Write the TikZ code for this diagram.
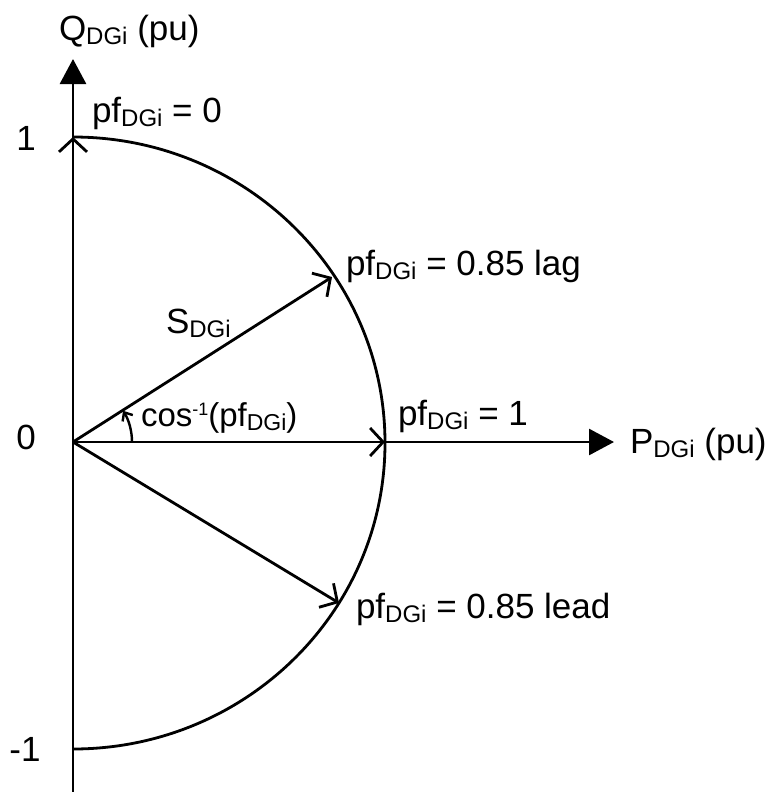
\documentclass[tikz,border=0pt]{standalone}
\usepackage{fontspec}
\setmainfont{Liberation Sans}
\usetikzlibrary{arrows.meta}
\newcommand\subx[1]{\raisebox{-4pt}{\fontsize{24}{24}\selectfont #1}}
\newcommand\subs[1]{\raisebox{-4pt}{\fontsize{23}{23}\selectfont #1}}
\newcommand\supx[1]{\raisebox{11pt}{\fontsize{18}{18}\selectfont #1}}
\begin{document}
\begin{tikzpicture}[x=1pt,y=-1pt,
  every node/.style={inner sep=0pt,outer sep=0pt,font=\fontsize{35}{42}\selectfont},
  lbl/.style={anchor=base west},
  axisline/.style={line width=2.8pt,-{Triangle[length=25pt,width=26pt]}},
  vec/.style={line width=2.8pt,-{Straight Barb[length=13pt,width=28pt]}},
  curve/.style={line width=2.8pt}]
\useasboundingbox (0,0) rectangle (777,792);
\coordinate (O) at (73,442);
\coordinate (ybot) at (73,792);
\coordinate (ytop) at (73,59);
\coordinate (xend) at (614,442);
\coordinate (q1) at (73,137);
\coordinate (p1) at (385,442);
\coordinate (lag) at (332,277);
\coordinate (lead) at (339,603);
\coordinate (a0) at (132,442);
% axes
\draw[axisline] (ybot) -- (ytop);
\draw[axisline] (O) -- (xend);
% capability arc
\draw[curve] (q1) arc[start angle=-90,end angle=90,x radius=312,y radius=306];
% vectors
\draw[vec] (O) -- (q1);
\draw[vec] (O) -- (p1);
\draw[vec] (O) -- (lag);
\draw[vec] (O) -- (lead);
% angle
\draw[line width=2.4pt,-{Straight Barb[length=7pt,width=12pt]}] (a0) arc[start angle=0,end angle=-32,radius=59];
% labels
\node[lbl] (ql) at (59,41) {Q\subx{DGi} (pu)};
\node[lbl] (pl) at (630,453) {P\subx{DGi} (pu)};
\node (one) at (26,138) {1};
\node (zero) at (26,437) {0};
\node (mone) at (25,749) {-1};
\node[lbl] (pf0) at (92,122) {pf\subx{DGi} = 0};
\node[lbl] (pflag) at (346,275) {pf\subx{DGi} = 0.85 lag};
\node[lbl] (pf1) at (398,425) {pf\subx{DGi} = 1};
\node[lbl] (pflead) at (356,618) {pf\subx{DGi} = 0.85 lead};
\node[lbl] (s) at (166,333) {S\subx{DGi}};
\node[lbl,font=\fontsize{33}{40}\selectfont] (cosl) at (141,426) {cos\supx{-1}(pf\subs{DGi})};
\end{tikzpicture}
\end{document}
